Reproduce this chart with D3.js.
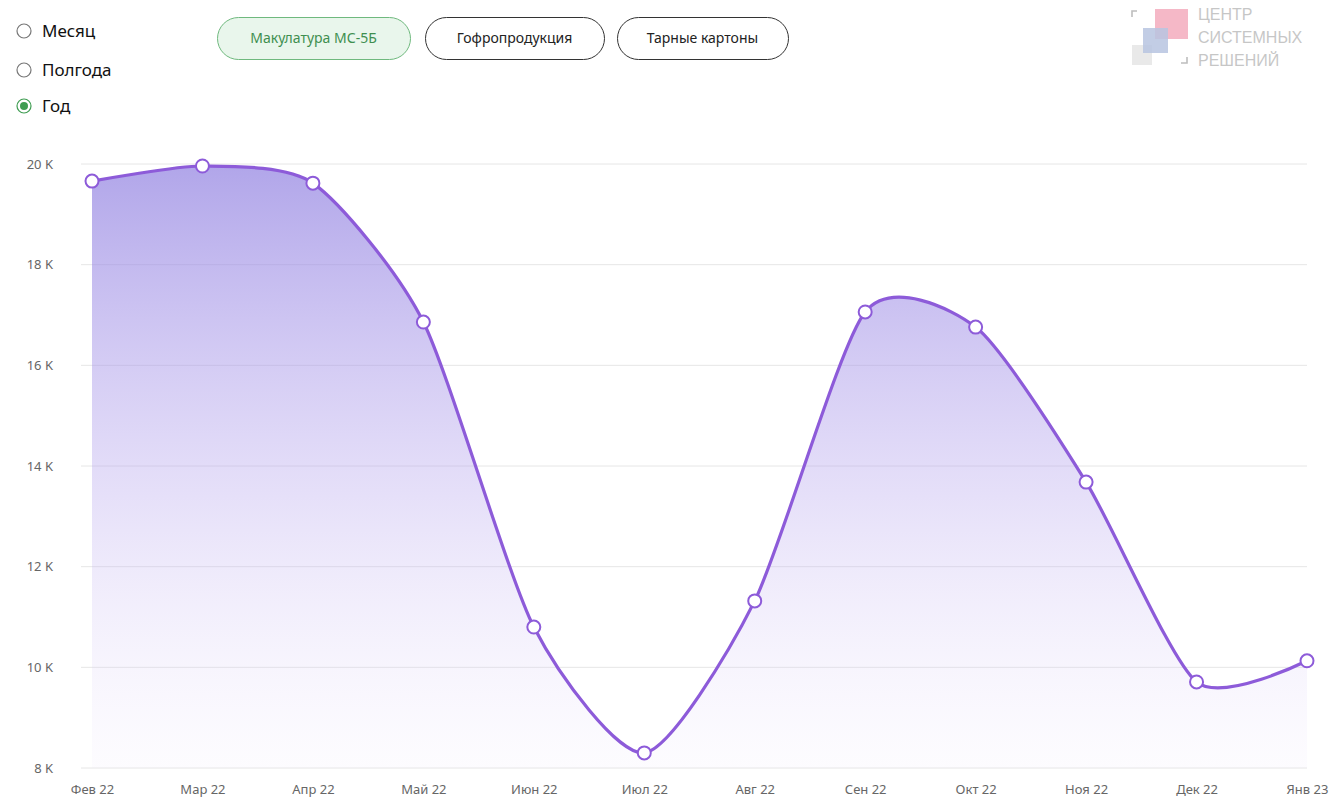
<!DOCTYPE html>
<html><head><meta charset="utf-8">
<script src="https://cdn.jsdelivr.net/npm/d3@7"></script>
<style>
html,body{margin:0;padding:0;background:#fff;}
svg{display:block;font-family:"Noto Sans",sans-serif;}
</style></head>
<body><svg id="c" width="1334" height="802"></svg>
<script>
const months = ["Фев 22","Мар 22","Апр 22","Май 22","Июн 22","Июл 22","Авг 22","Сен 22","Окт 22","Ноя 22","Дек 22","Янв 23"];
const values = [19660,19960,19620,16860,10800,8300,11320,17060,16760,13680,9710,10130];
const yTicks = [8000,10000,12000,14000,16000,18000,20000];
const periods = ["Месяц","Полгода","Год"];
const selectedPeriod = "Год";
const products = ["Макулатура МС-5Б","Гофропродукция","Тарные картоны"];
const selectedProduct = "Макулатура МС-5Б";
const logoLines = ["ЦЕНТР","СИСТЕМНЫХ","РЕШЕНИЙ"];

const svg = d3.select("#c");
const x = d3.scalePoint().domain(months).range([92,1307]);
const y = d3.scaleLinear().domain([8000,20000]).range([768,164]);

// gradient
const defs = svg.append("defs");
const g = defs.append("linearGradient").attr("id","fillG").attr("gradientUnits","userSpaceOnUse")
  .attr("x1",0).attr("x2",0).attr("y1",y(20000)).attr("y2",y(8000));
g.append("stop").attr("offset","0%").attr("stop-color","#8f7fe0").attr("stop-opacity",0.7);
g.append("stop").attr("offset","55%").attr("stop-color","#b7a6ee").attr("stop-opacity",0.35);
g.append("stop").attr("offset","100%").attr("stop-color","#e8defa").attr("stop-opacity",0.1);

// grid
svg.append("g").selectAll("line").data(yTicks).join("line")
  .attr("x1",81).attr("x2",1307).attr("y1",d=>y(d)).attr("y2",d=>y(d))
  .attr("stroke","#e6e6e6").attr("stroke-width",1);

// y axis labels
const yAxis = d3.axisLeft(y).tickValues(yTicks).tickFormat(d=>(d/1000)+" K").tickSize(0).tickPadding(0);
const ya = svg.append("g").attr("transform","translate(53,0)").call(yAxis);
ya.select(".domain").remove();
ya.selectAll("text").attr("font-size",13).attr("fill","#666").attr("font-family","Noto Sans");

// x axis labels
const xAxis = d3.axisBottom(x).tickSize(0).tickPadding(0);
const xa = svg.append("g").attr("transform","translate(0,785)").call(xAxis);
xa.select(".domain").remove();
xa.selectAll("text").attr("font-size",13).attr("fill","#666").attr("font-family","Noto Sans");

const curve = d3.curveCardinal.tension(0.3);
const area = d3.area().x((d,i)=>x(months[i])).y0(y(8000)).y1(d=>y(d)).curve(curve);
const line = d3.line().x((d,i)=>x(months[i])).y(d=>y(d)).curve(curve);

svg.append("path").datum(values).attr("d",area).attr("fill","url(#fillG)");
svg.append("path").datum(values).attr("d",line).attr("fill","none")
  .attr("stroke","#8d5bd9").attr("stroke-width",3.2);

svg.append("g").selectAll("circle").data(values).join("circle")
  .attr("cx",(d,i)=>x(months[i])).attr("cy",d=>y(d)).attr("r",6.5)
  .attr("fill","#fff").attr("stroke","#8d5bd9").attr("stroke-width",2);

// radio buttons
const rY = [31,70,106];
const rg = svg.append("g");
periods.forEach((p,i)=>{
  const sel = p===selectedPeriod;
  rg.append("circle").attr("cx",24).attr("cy",rY[i]).attr("r",7)
    .attr("fill","#fff").attr("stroke",sel?"#3f9d52":"#777").attr("stroke-width",1.2);
  if(sel) rg.append("circle").attr("cx",24).attr("cy",rY[i]).attr("r",4).attr("fill","#3f9d52");
  rg.append("text").attr("x",42).attr("y",rY[i]).attr("dy","0.35em")
    .attr("font-size",17).attr("fill","#111").text(p);
});

// pills
const pillX = [217,425,617];
const pillW = [193,179,171];
products.forEach((p,i)=>{
  const sel = p===selectedProduct;
  svg.append("rect").attr("x",pillX[i]+0.5).attr("y",17.5).attr("width",pillW[i]).attr("height",42).attr("rx",21)
    .attr("fill",sel?"#e9f6ec":"#fff").attr("stroke",sel?"#6fb97e":"#333").attr("stroke-width",1);
  svg.append("text").attr("x",pillX[i]+pillW[i]/2).attr("y",38.5).attr("dy","0.35em").attr("text-anchor","middle")
    .attr("font-size",14).attr("fill",sel?"#3f8f50":"#222").text(p);
});

// logo
const lg = svg.append("g").attr("opacity",0.55);
lg.append("rect").attr("x",1132).attr("y",45).attr("width",20).attr("height",20).attr("fill","#d8d8d8");
lg.append("rect").attr("x",1155).attr("y",9).attr("width",33).attr("height",30).attr("fill","#ee7f9a");
lg.append("rect").attr("x",1143).attr("y",28).attr("width",25).attr("height",25).attr("fill","#7f97c9").attr("opacity",0.85);
lg.append("path").attr("d","M1132,17 L1132,11 L1137,11").attr("fill","none").attr("stroke","#888").attr("stroke-width",1.6);
lg.append("path").attr("d","M1181,63 L1187,63 L1187,57").attr("fill","none").attr("stroke","#888").attr("stroke-width",1.6);
const lb = [20,43,66];
logoLines.forEach((t,i)=>{
  lg.append("text").attr("x",1198).attr("y",lb[i]).attr("font-size",16).attr("font-family","Liberation Sans")
    .attr("fill","#999").text(t);
});
</script></body></html>
